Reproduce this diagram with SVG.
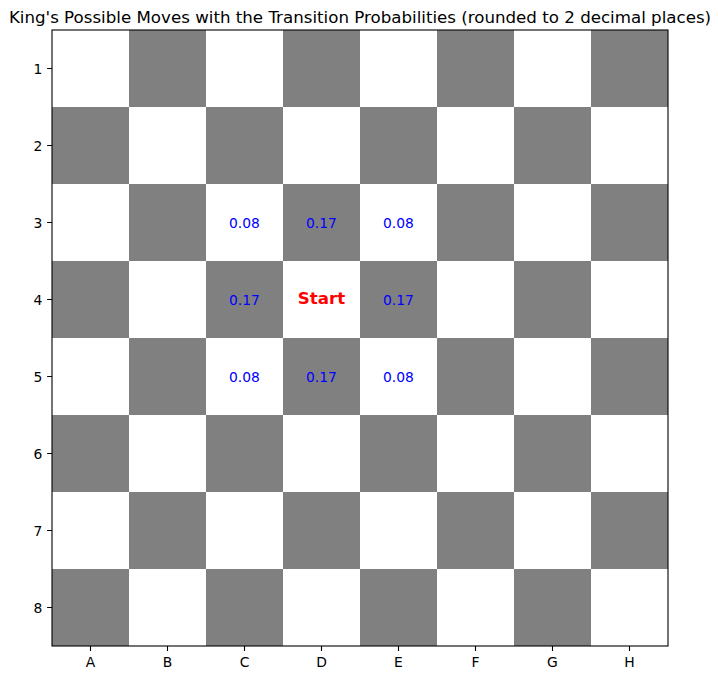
<svg xmlns="http://www.w3.org/2000/svg" width="718" height="678" viewBox="0 0 718 678">
<style>
text{font-family:"DejaVu Sans","Liberation Sans",sans-serif;}
.g{fill:#808080;}
.t{font-size:16.67px;fill:#000;}
.lab{font-size:13.89px;fill:#000;}
.p{font-size:13.89px;fill:#0000ff;text-anchor:middle;}
.s{font-size:16.67px;fill:#ff0000;font-weight:bold;text-anchor:middle;}
.tick{stroke:#000;stroke-width:1.1;}
</style>
<rect width="718" height="678" fill="#fff"/>
<text class="t" x="360" y="22.5" text-anchor="middle">King's Possible Moves with the Transition Probabilities (rounded to 2 decimal places)</text>
<g id="board">
<rect x="52" y="30" width="616" height="616" fill="#fff"/>
<rect class="g" x="129" y="30" width="77" height="77"/><rect class="g" x="283" y="30" width="77" height="77"/><rect class="g" x="437" y="30" width="77" height="77"/><rect class="g" x="591" y="30" width="77" height="77"/>
<rect class="g" x="52" y="107" width="77" height="77"/><rect class="g" x="206" y="107" width="77" height="77"/><rect class="g" x="360" y="107" width="77" height="77"/><rect class="g" x="514" y="107" width="77" height="77"/>
<rect class="g" x="129" y="184" width="77" height="77"/><rect class="g" x="283" y="184" width="77" height="77"/><rect class="g" x="437" y="184" width="77" height="77"/><rect class="g" x="591" y="184" width="77" height="77"/>
<rect class="g" x="52" y="261" width="77" height="77"/><rect class="g" x="206" y="261" width="77" height="77"/><rect class="g" x="360" y="261" width="77" height="77"/><rect class="g" x="514" y="261" width="77" height="77"/>
<rect class="g" x="129" y="338" width="77" height="77"/><rect class="g" x="283" y="338" width="77" height="77"/><rect class="g" x="437" y="338" width="77" height="77"/><rect class="g" x="591" y="338" width="77" height="77"/>
<rect class="g" x="52" y="415" width="77" height="77"/><rect class="g" x="206" y="415" width="77" height="77"/><rect class="g" x="360" y="415" width="77" height="77"/><rect class="g" x="514" y="415" width="77" height="77"/>
<rect class="g" x="129" y="492" width="77" height="77"/><rect class="g" x="283" y="492" width="77" height="77"/><rect class="g" x="437" y="492" width="77" height="77"/><rect class="g" x="591" y="492" width="77" height="77"/>
<rect class="g" x="52" y="569" width="77" height="77"/><rect class="g" x="206" y="569" width="77" height="77"/><rect class="g" x="360" y="569" width="77" height="77"/><rect class="g" x="514" y="569" width="77" height="77"/>
<rect x="52" y="30" width="616" height="616" fill="none" stroke="#000" stroke-width="1.1"/>
</g>
<g id="probs">
<text class="p" x="244.5" y="227.5">0.08</text>
<text class="p" x="321.5" y="227.5">0.17</text>
<text class="p" x="398.5" y="227.5">0.08</text>
<text class="p" x="244.5" y="304.5">0.17</text>
<text class="s" x="321.5" y="304.3">Start</text>
<text class="p" x="398.5" y="304.5">0.17</text>
<text class="p" x="244.5" y="381.5">0.08</text>
<text class="p" x="321.5" y="381.5">0.17</text>
<text class="p" x="398.5" y="381.5">0.08</text>
</g>
<g id="axes">
<path class="tick" d="M90.5 646v4.9M167.5 646v4.9M244.5 646v4.9M321.5 646v4.9M398.5 646v4.9M475.5 646v4.9M552.5 646v4.9M629.5 646v4.9M52 68.5h-4.9M52 145.5h-4.9M52 222.5h-4.9M52 299.5h-4.9M52 376.5h-4.9M52 453.5h-4.9M52 530.5h-4.9M52 607.5h-4.9"/>
<g class="lab" text-anchor="middle">
<text x="90.5" y="666.8">A</text><text x="167.5" y="666.8">B</text><text x="244.5" y="666.8">C</text><text x="321.5" y="666.8">D</text><text x="398.5" y="666.8">E</text><text x="475.5" y="666.8">F</text><text x="552.5" y="666.8">G</text><text x="629.5" y="666.8">H</text>
</g>
<g class="lab" text-anchor="end">
<text x="42.3" y="73.5">1</text><text x="42.3" y="150.5">2</text><text x="42.3" y="227.5">3</text><text x="42.3" y="304.5">4</text><text x="42.3" y="381.5">5</text><text x="42.3" y="458.5">6</text><text x="42.3" y="535.5">7</text><text x="42.3" y="612.5">8</text>
</g>
</g>
</svg>
